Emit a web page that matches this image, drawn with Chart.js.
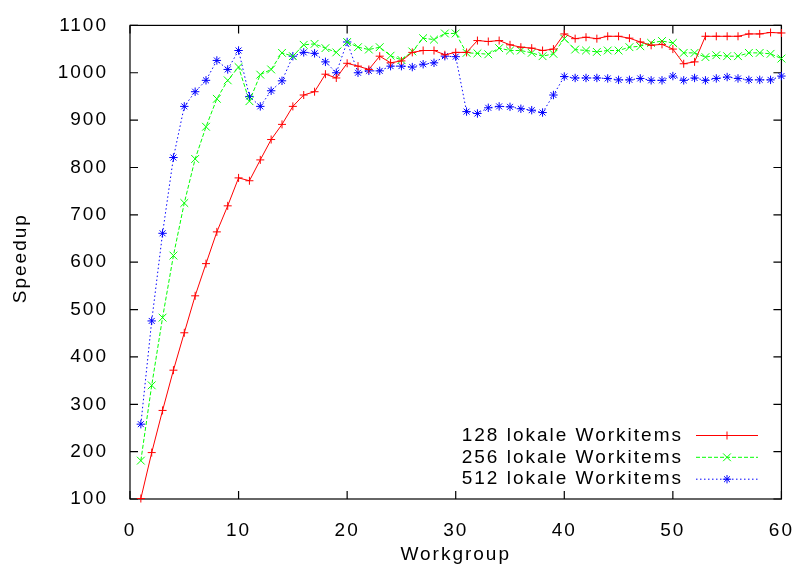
<!DOCTYPE html>
<html><head><meta charset="utf-8">
<script src="https://cdn.jsdelivr.net/npm/chart.js@4/dist/chart.umd.min.js"></script>
<style>html,body{margin:0;padding:0;background:#fff}</style>
</head><body>
<canvas id="c" width="806" height="573" style="width:806px;height:573px;display:block"></canvas>
<script>
const workgroups = [1,2,3,4,5,6,7,8,9,10,11,12,13,14,15,16,17,18,19,20,21,22,23,24,25,26,27,28,29,30,31,32,33,34,35,36,37,38,39,40,41,42,43,44,45,46,47,48,49,50,51,52,53,54,55,56,57,58,59,60];
const speedup128 = [101,198,287,372,451,529,597,664,719,778,772,816,859,891,929,953,960,997,989,1020,1014,1007,1035,1021,1025,1043,1047,1047,1038,1043,1043,1068,1066,1068,1059,1054,1052,1047,1050,1082,1072,1075,1072,1077,1077,1073,1065,1058,1060,1050,1019,1023,1077,1077,1077,1077,1082,1082,1085,1084];
const speedup256 = [181,340,483,614,725,818,886,945,984,1012,940,996,1007,1042,1035,1059,1061,1052,1043,1065,1054,1049,1054,1036,1027,1045,1073,1070,1083,1083,1042,1041,1039,1052,1047,1047,1042,1035,1040,1072,1049,1047,1044,1047,1047,1054,1056,1063,1067,1063,1042,1042,1033,1037,1035,1035,1042,1042,1040,1030];
const speedup512 = [258,476,661,821,929,960,984,1026,1007,1047,950,929,962,983,1035,1043,1041,1023,1000,1065,1000,1004,1004,1014,1014,1012,1018,1021,1035,1034,918,914,926,929,928,924,921,916,953,992,989,989,989,988,985,985,988,984,984,993,984,989,984,988,991,988,985,985,985,993];
const seriesLabels = ['128 lokale Workitems','256 lokale Workitems','512 lokale Workitems'];
const xTicks = [0,10,20,30,40,50,60];
const yTicks = [100,200,300,400,500,600,700,800,900,1000,1100];
const xTitle = 'Workgroup';
const yTitle = 'Speedup';

const FONT = {family:'"Liberation Sans", Arial, sans-serif', size:19};
const toXY = vals => workgroups.map((w,i)=>({x:w,y:vals[i]}));

const styles = [
  {color:'#ff0000', dash:[], pointStyle:'cross', radius:4},
  {color:'#00ff00', dash:[4,2], pointStyle:'crossRot', radius:5.5},
  {color:'#0000ff', dash:[1.5,2.5], pointStyle:'star', radius:4.2}
];
const seriesData = [speedup128, speedup256, speedup512];

const datasets = seriesData.map((vals,i)=>({
  label: seriesLabels[i],
  data: toXY(vals),
  borderColor: styles[i].color,
  backgroundColor: styles[i].color,
  borderWidth: 1,
  borderDash: styles[i].dash,
  pointStyle: styles[i].pointStyle,
  pointRadius: styles[i].radius,
  pointBorderWidth: 1,
  pointBorderColor: styles[i].color,
  pointBackgroundColor: styles[i].color,
  tension: 0,
  clip: false
}));

const framePlugin = {
  id: 'gnuframe',
  beforeLayout(chart){ chart.ctx.letterSpacing = '2px'; },
  beforeDraw(chart){ chart.ctx.letterSpacing = '2px'; },
  beforeDatasetsDraw(chart){
    const {ctx, chartArea:a, scales} = chart;
    ctx.save();
    ctx.strokeStyle = '#000';
    ctx.lineWidth = 1.2;
    ctx.setLineDash([]);
    ctx.strokeRect(a.left, a.top, a.right - a.left, a.bottom - a.top);
    ctx.beginPath();
    const tl = 8;
    xTicks.forEach(v=>{
      const px = scales.x.getPixelForValue(v);
      ctx.moveTo(px, a.bottom); ctx.lineTo(px, a.bottom - tl);
      ctx.moveTo(px, a.top); ctx.lineTo(px, a.top + tl);
    });
    yTicks.forEach(v=>{
      const py = scales.y.getPixelForValue(v);
      ctx.moveTo(a.left, py); ctx.lineTo(a.left + tl, py);
      ctx.moveTo(a.right, py); ctx.lineTo(a.right - tl, py);
    });
    ctx.stroke();
    // y axis title
    ctx.letterSpacing = '2px';
    ctx.font = FONT.size + 'px ' + FONT.family;
    ctx.fillStyle = '#000';
    ctx.textAlign = 'center';
    ctx.textBaseline = 'middle';
    ctx.translate(20.5, (a.top + a.bottom) / 2 - 4);
    ctx.rotate(-Math.PI / 2);
    ctx.fillText(yTitle, 0, 0);
    ctx.restore();
  },
  afterDatasetsDraw(chart){
    const ctx = chart.ctx;
    ctx.save();
    ctx.letterSpacing = '2px';
    ctx.font = FONT.size + 'px ' + FONT.family;
    ctx.textAlign = 'right';
    ctx.textBaseline = 'middle';
    const rows = [435.5, 457.3, 479.2];
    seriesLabels.forEach((lab,i)=>{
      const y = rows[i];
      ctx.fillStyle = '#000';
      ctx.fillText(lab, 683, y);
      ctx.strokeStyle = styles[i].color;
      ctx.fillStyle = styles[i].color;
      ctx.lineWidth = 1;
      ctx.setLineDash(styles[i].dash);
      ctx.beginPath();
      ctx.moveTo(696, y); ctx.lineTo(758, y);
      ctx.stroke();
      ctx.setLineDash([]);
      Chart.helpers.drawPoint(ctx, {pointStyle: styles[i].pointStyle, radius: styles[i].radius, rotation: 0, borderWidth: 1}, 727, y);
    });
    ctx.restore();
  }
};

new Chart(document.getElementById('c'), {
  type: 'line',
  data: { datasets },
  options: {
    responsive: false,
    animation: false,
    devicePixelRatio: 1,
    layout: { padding: {top:17, right:20, left:0, bottom:0} },
    plugins: { legend: {display:false}, tooltip: {enabled:false} },
    scales: {
      x: {
        type: 'linear', min: 0, max: 60,
        afterBuildTicks: s => { s.ticks = xTicks.map(v=>({value:v})); },
        afterFit: s => { s.height = 74; },
        grid: {display:false}, border: {display:false},
        ticks: {color:'#000', font: FONT, padding: 12, maxRotation: 0, autoSkip: false, callback: v => String(v)},
        title: {display:true, text: xTitle, color:'#000', font: FONT, padding:{top:0, bottom:7}}
      },
      y: {
        type: 'linear', min: 100, max: 1100,
        afterBuildTicks: s => { s.ticks = yTicks.map(v=>({value:v})); },
        afterFit: s => { s.width = 130; },
        grid: {display:false}, border: {display:false},
        ticks: {color:'#000', font: FONT, padding: 14, autoSkip: false, callback: v => String(v)},
        title: {display:false, text: yTitle}
      }
    }
  },
  plugins: [framePlugin]
});
</script>
</body></html>
